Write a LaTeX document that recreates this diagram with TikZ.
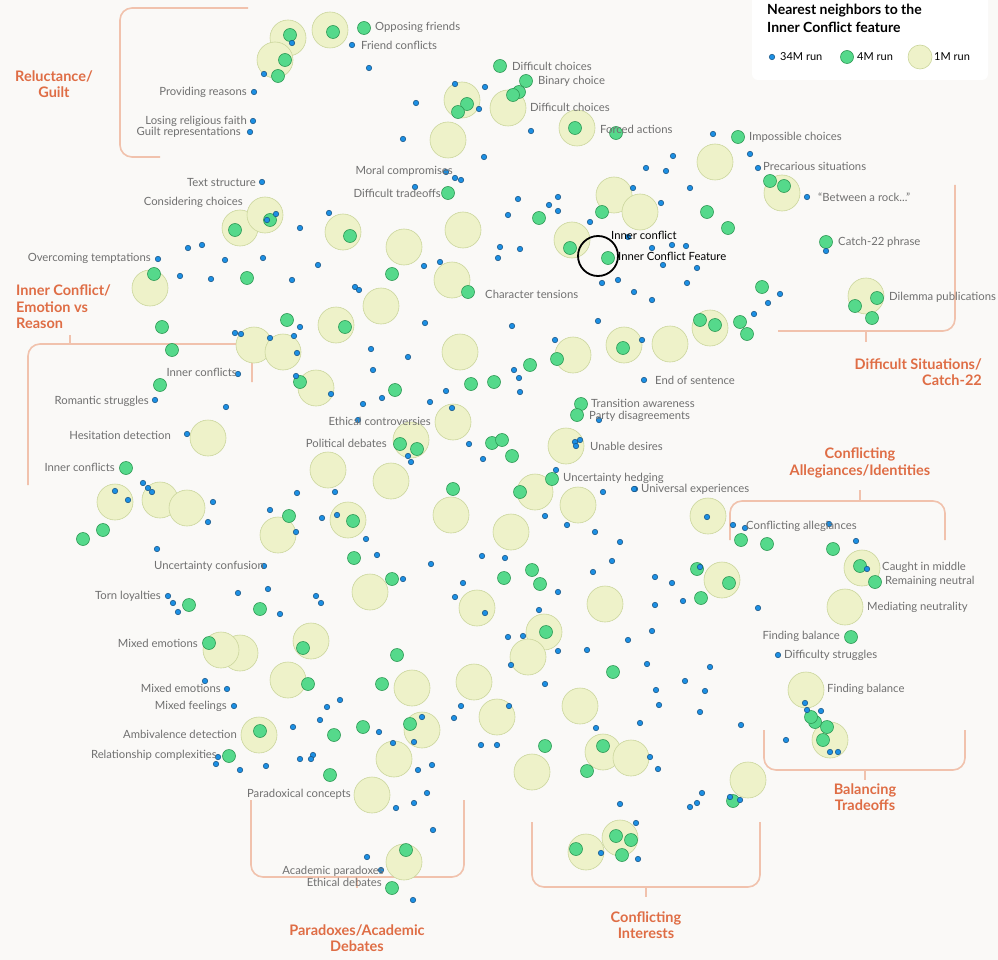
\documentclass[tikz,border=0pt]{standalone}
\usepackage{fontspec}
\setmainfont{Lato}
\begin{document}
\begin{tikzpicture}[x=1pt,y=-1pt,
  big/.style={circle,fill=bigc,draw=bigd,line width=0.6pt,minimum size=36pt,inner sep=0pt},
  mid/.style={circle,fill=midc,draw=midd,line width=0.6pt,minimum size=13pt,inner sep=0pt},
  sml/.style={circle,fill=smlc,draw=smld,line width=0.5pt,minimum size=5.5pt,inner sep=0pt},
  lab/.style={text=labc,font=\fontsize{11.3}{12}\selectfont,inner sep=1pt},
  cat/.style={text=catc,font=\bfseries\fontsize{14.5}{16.5}\selectfont,align=center,inner sep=0pt},
  brk/.style={draw=brkc,line width=1.6pt,rounded corners=12pt}]
\definecolor{bg}{HTML}{FAF9F7}
\definecolor{bigc}{HTML}{EEF2C9}
\definecolor{bigd}{HTML}{CBD69C}
\definecolor{midc}{HTML}{55D98B}
\definecolor{midd}{HTML}{2E9A55}
\definecolor{smlc}{HTML}{1C8FE3}
\definecolor{smld}{HTML}{16507E}
\definecolor{labc}{HTML}{707070}
\definecolor{catc}{HTML}{DF6D45}
\definecolor{brkc}{HTML}{F1C2AD}
\fill[bg] (0,0) rectangle (998,960);
\useasboundingbox (0,0) rectangle (998,960);
% brackets
\draw[brk] (248,8) -- (120,8) -- (120,157) -- (160,157);
\draw[brk] (28,485) -- (28,344) -- (252,344) -- (252,382);
\draw[brk] (70,344) -- (70,335);
\draw[brk] (955,185) -- (955,331) -- (778,331);
\draw[brk] (866,331) -- (866,342);
\draw[brk] (730,540) -- (730,501) -- (945,501) -- (945,540);
\draw[brk] (860,501) -- (860,490);
\draw[brk] (764,730) -- (764,770) -- (965,770) -- (965,730);
\draw[brk] (865,770) -- (865,780);
\draw[brk] (532,822) -- (532,887) -- (760,887) -- (760,822);
\draw[brk] (646,887) -- (646,897);
\draw[brk] (251,800) -- (251,877) -- (464,877) -- (464,800);
\draw[brk] (357,877) -- (357,888);
% big circles
\foreach[count=\i] \x/\y in {288/38,330/30,275/60,462/100,508/108,577/128,448/140,715/162,782/193,614/195,640/212,572/240,240/228,265/215,343/232,404/247,463/230,452/280,381/306,150/288,254/345,283/352,336/325,460/352,573/355,624/345,670/344,710/328,866/296,316/388,453/422,411/440,208/438,328/470,391/481,566/446,115/502,160/500,187/508,278/535,348/520,451/515,511/532,535/492,578/505,708/516,722/580,862/568,845/607,370/592,477/608,605/604,544/632,528/657,311/641,240/653,221/650,288/680,412/688,474/682,497/717,580/706,806/690,830/740,422/730,394/759,259/735,372/795,532/772,603/752,631/758,748/780,620/838,586/852,404/862}
  \node[big] (b\i) at (\x,\y) {};
% 4M
\foreach[count=\i] \x/\y in {364/28,290/35,333/32,285/60,278/76,500/66,526/81,519/92,513/95,467/104,458/112,575/128,738/137,448/193,616/133,770/181,784/186,602/212,539/218,707/212,728/228,826/242,570/248,608/258,235/230,270/220,350/236,392/274,247/278,154/274,468/292,162/327,172/350,287/320,345/327,530/365,623/348,700/320,715/325,740/322,747/334,762/287,877/298,855/306,872/318,160/385,300/382,395/390,471/384,494/382,557/359,581/404,577/415,400/444,417/449,492/443,502/440,512/456,126/468,103/530,83/539,289/516,353/521,453/489,552/479,520/492,741/540,767/544,833/549,860/566,875/582,851/637,697/569,729/583,701/598,189/605,260/609,354/558,392/579,504/578,532/570,540/584,546/632,209/643,303/648,397/655,613/672,308/684,382/684,363/727,410/724,334/735,260/731,229/756,330/775,545/746,587/771,603/746,733/801,823/740,827/727,815/722,811/717,576/849,622/855,631/840,616/836,406/850,392/888}
  \node[mid] (m\i) at (\x,\y) {};
% 34M
\foreach[count=\i] \x/\y in {369/68,352/45,292/43,254/92,264/74,253/121,250/132,416/103,455/84,485/87,479/109,403/139,531/131,484/157,446/172,461/180,455/178,415/187,262/182,276/214,329/213,267/220,300/228,202/245,225/260,188/248,158/259,180/276,211/279,263/258,292/280,318/265,355/287,359/290,424/266,440/262,500/247,498/258,520/249,549/205,558/211,590/222,628/237,652/248,672/245,686/246,663/265,697/268,687/283,618/280,602/283,634/292,661/203,690/188,633/188,666/171,673/156,646/168,713/134,750/154,758/168,807/197,826/251,754/314,780/294,768/303,508/215,518/199,558/197,512/326,598/321,555/340,642/340,644/380,652/300,235/333,241/334,270/338,294/336,371/349,408/357,373/370,446/391,425/323,300/327,238/374,296/376,331/394,363/404,358/420,382/398,297/353,226/407,187/434,155/400,143/483,128/500,148/488,152/492,115/491,270/510,213/502,208/522,296/532,297/493,335/492,322/518,337/515,377/555,264/566,157/549,173/603,168/596,178/612,238/593,268/589,321/603,280/614,316/596,403/579,366/539,411/462,408/456,430/402,452/408,469/444,483/459,514/370,519/378,520/392,556/470,575/442,580/440,599/420,603/492,635/489,595/532,620/542,612/561,567/525,545/516,482/556,505/558,455/597,463/583,431/564,485/613,539/610,558/592,593/572,655/577,683/601,652/631,672/583,628/640,587/650,511/665,523/636,508/637,558/651,647/664,710/667,705/691,685/681,656/690,659/705,700/712,640/723,596/728,509/706,545/684,454/718,461/706,497/745,481/745,414/742,422/717,393/743,379/732,418/770,427/793,414/803,396/808,293/727,300/759,313/755,218/757,216/764,227/689,234/706,205/681,311/759,340/700,327/707,320/720,240/770,266/766,432/765,433/830,367/857,413/900,381/870,690/807,697/803,741/725,740/800,650/757,658/769,620/804,702/793,730/797,638/859,601/853,636/823,733/525,745/528,829/524,867/569,856/541,778/655,786/740,821/711,807/710,805/703,838/752,830/752,700/567,655/605,707/517,758/608,634/489,576/446}
  \node[sml] (s\i) at (\x,\y) {};
% highlight
\node[circle,draw=black,line width=1.8pt,minimum size=40pt,inner sep=0pt] (hl) at (598,256) {};
% left-anchored labels
\foreach \x/\y/\t in {374/27/Opposing friends,360/45/Friend conflicts,511/66/Difficult choices,537/81/Binary choice,529/107/Difficult choices,599/129/Forced actions,748/137/Impossible choices,762/166/Precarious situations,817/197/{``Between a rock...''},837/242/Catch-22 phrase,888/297/Dilemma publications,484/294/Character tensions,654/380/End of sentence,590/403/Transition awareness,588/416/Party disagreements,589/446/Unable desires,562/478/Uncertainty hedging,640/489/Universal experiences,745/526/Conflicting allegiances,881/567/Caught in middle,884/581/Remaining neutral,866/607/Mediating neutrality,783/655/Difficulty struggles,826/689/Finding balance}
  \node[lab,anchor=west] at (\x,\y) {\t};
\node[lab,anchor=west,text=black] (t1) at (610,235) {Inner conflict};
\node[lab,anchor=west,text=black] (t2) at (617,256) {Inner Conflict Feature};
% right-anchored labels
\foreach \x/\y/\t in {248/92/Providing reasons,248/121/Losing religious faith,242/132/Guilt representations,454/171/Moral compromises,442/193/Difficult tradeoffs,257/182/Text structure,244/202/Considering choices,152/258/Overcoming temptations,238/372/Inner conflicts,150/401/Romantic struggles,172/435/Hesitation detection,116/467/Inner conflicts,432/421/Ethical controversies,388/443/Political debates,841/636/Finding balance,265/566/Uncertainty confusion,162/596/Torn loyalties,199/643/Mixed emotions,222/688/Mixed emotions,228/706/Mixed feelings,238/734/Ambivalence detection,218/755/Relationship complexities,352/794/Paradoxical concepts,385/871/Academic paradoxes,383/882/Ethical debates}
  \node[lab,anchor=east] at (\x,\y) {\t};
% categories
\node[cat] (c1) at (54,84) {Reluctance/\\Guilt};
\node[cat,align=left,anchor=west] (c2) at (16,307) {Inner Conflict/\\Emotion vs\\Reason};
\node[cat,align=right,anchor=east] (c3) at (982,372) {Difficult Situations/\\Catch-22};
\node[cat] (c4) at (860,463) {Conflicting\\Allegiances/Identities};
\node[cat] (c5) at (865,797) {Balancing\\Tradeoffs};
\node[cat] (c6) at (646,925) {Conflicting\\Interests};
\node[cat] (c7) at (357,938) {Paradoxes/Academic\\Debates};
% legend
\fill[white,rounded corners=6pt] (752,-8) rectangle (988,80);
\node[anchor=north west,align=left,font=\bfseries\fontsize{14}{18}\selectfont,inner sep=0pt] (lt) at (767,4) {Nearest neighbors to the\\Inner Conflict feature};
\node[sml] (l1) at (772,57) {};
\node[anchor=west,font=\fontsize{11}{12}\selectfont,inner sep=0pt] at (780,57) {34M run};
\node[mid] (l2) at (847,57) {};
\node[anchor=west,font=\fontsize{11}{12}\selectfont,inner sep=0pt] at (857,57) {4M run};
\node[big,minimum size=24pt] (l3) at (920,57) {};
\node[anchor=west,font=\fontsize{11}{12}\selectfont,inner sep=0pt] at (934,57) {1M run};
\end{tikzpicture}
\end{document}
